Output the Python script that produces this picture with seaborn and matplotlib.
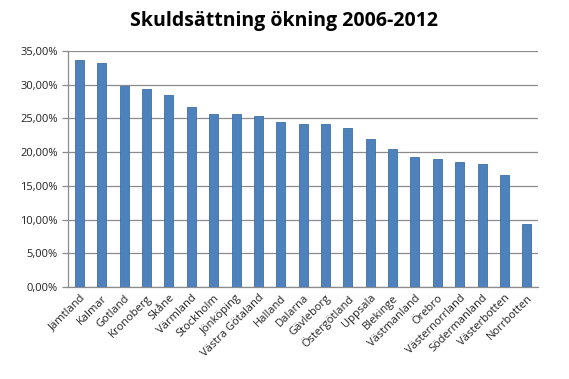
import matplotlib
matplotlib.use("Agg")
import matplotlib.pyplot as plt
import matplotlib.ticker as mticker
import seaborn as sns
import pandas as pd
import numpy as np

regions = ["Jämtland", "Kalmar", "Gotland", "Kronoberg", "Skåne", "Värmland",
           "Stockholm", "Jönköping", "Västra Götaland", "Halland", "Dalarna",
           "Gävleborg", "Östergötland", "Uppsala", "Blekinge", "Västmanland",
           "Örebro", "Västernorrland", "Södermanland", "Västerbotten", "Norrbotten"]
values = [33.7, 33.2, 29.8, 29.3, 28.4, 26.7, 25.7, 25.7, 25.3, 24.4, 24.1,
          24.1, 23.6, 21.9, 20.5, 19.3, 18.9, 18.5, 18.3, 16.6, 9.3]
yticks = [0, 5, 10, 15, 20, 25, 30, 35]

df = pd.DataFrame({"region": regions, "value": values})

sns.set_style("white")
plt.rcParams['font.family'] = ['Open Sans', 'DejaVu Sans']

fig = plt.figure(figsize=(5.69, 3.79), dpi=100)
ax = fig.add_axes([0.12, 0.2427, 0.8255, 0.6233])

sns.barplot(data=df, x="region", y="value", color="#4F81BD", saturation=1,
            width=0.4, ax=ax, zorder=3)
for p in ax.patches:
    p.set_edgecolor("#3C6FA8")
    p.set_linewidth(0.6)

ax.set_ylim(0, 35)
ax.set_xlim(-0.5, len(regions) - 0.5)
ax.set_yticks(yticks)
ax.yaxis.set_major_formatter(mticker.FuncFormatter(lambda v, p: f"{v:.2f}%".replace(".", ",")))
ax.yaxis.grid(True, color="#8C8C8C", linewidth=0.9, zorder=0)
ax.set_axisbelow(True)

ax.set_xlabel("")
ax.set_ylabel("")
for s in ["top", "right"]:
    ax.spines[s].set_visible(False)
for s in ["left", "bottom"]:
    ax.spines[s].set_color("#8C8C8C")
    ax.spines[s].set_linewidth(0.9)

ax.set_xticks(range(len(regions)))
ax.set_xticklabels(regions, rotation=45, ha="right", rotation_mode="anchor",
                   fontsize=8, color="#222222")
ax.tick_params(axis="x", which="major", length=0, pad=4)
ax.set_xticks(np.arange(-0.5, len(regions), 1.0), minor=True)
ax.tick_params(axis="x", which="minor", length=4, color="#8C8C8C", width=0.9, direction="out")
ax.tick_params(axis="y", which="major", length=4, color="#8C8C8C", width=0.9,
               direction="out", labelsize=8, labelcolor="#222222", left=True)

fig.text(0.5, 0.945, "Skuldsättning ökning 2006-2012", ha="center", va="center",
         fontsize=14, fontweight="bold", color="#000000")

fig.savefig("out.png", dpi=100)
